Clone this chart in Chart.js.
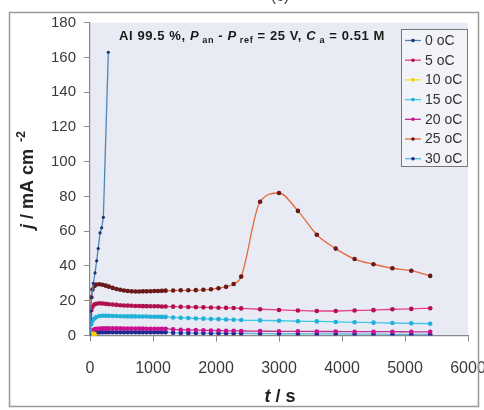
<!DOCTYPE html>
<html>
<head>
<meta charset="utf-8">
<script src="https://cdn.jsdelivr.net/npm/chart.js@4/dist/chart.umd.min.js"></script>
<style>
  body { margin: 0; background: #fff; }
  canvas { display: block; }
</style>
</head>
<body>
<canvas id="chart" width="484" height="410"></canvas>
<script>
// time (s) for the long runs
const tLong = [0, 20, 40, 70, 100, 150, 200, 250, 300, 360, 420, 480, 540, 600, 660, 720, 780, 840, 900, 960,
    1020, 1080, 1140, 1200, 1320, 1440, 1560, 1680, 1800, 1920, 2040, 2160, 2280, 2400,
    2700, 3000, 3300, 3600, 3900, 4200, 4500, 4800, 5100, 5400];

// j / mA cm-2
const j5 = [10, 14.5, 16.5, 17.8, 18.3, 18.5, 18.4, 18.2, 18.0, 17.8, 17.6, 17.4, 17.3, 17.2, 17.1, 17.0, 17.0, 16.9, 16.9, 16.8,
    16.8, 16.8, 16.7, 16.7, 16.6, 16.5, 16.4, 16.3, 16.2, 16.1, 16.0, 15.9, 15.8, 15.6,
    15.1, 14.7, 14.4, 14.1, 14.1, 14.4, 14.6, 15.1, 15.3, 15.7];
const j15 = [3, 6.5, 8.5, 9.8, 10.6, 11.2, 11.4, 11.4, 11.3, 11.2, 11.2, 11.1, 11.1, 11.0, 11.0, 11.0, 10.9, 10.9, 10.9, 10.8,
    10.8, 10.8, 10.7, 10.7, 10.4, 10.2, 10.0, 9.8, 9.7, 9.5, 9.4, 9.2, 9.1, 8.9,
    8.7, 8.5, 8.2, 8.1, 7.8, 7.6, 7.4, 7.2, 7.0, 6.8];
const j20 = [0.5, 2, 3, 3.5, 3.8, 4.0, 4.1, 4.1, 4.1, 4.1, 4.1, 4.1, 4.0, 4.0, 4.0, 4.0, 4.0, 4.0, 3.9, 3.9,
    3.9, 3.9, 3.9, 3.9, 3.5, 3.3, 3.2, 3.1, 3.0, 2.9, 2.8, 2.7, 2.7, 2.6,
    2.5, 2.4, 2.4, 2.3, 2.3, 2.2, 2.2, 2.2, 2.1, 2.1];
const j25 = [12, 22, 26.5, 28.5, 29.3, 29.5, 29.2, 28.7, 28.1, 27.4, 26.8, 26.3, 25.9, 25.6, 25.4, 25.3, 25.3, 25.4, 25.4, 25.5,
    25.6, 25.6, 25.7, 25.8, 25.9, 26.0, 26.0, 26.1, 26.3, 26.6, 27.2, 28.0, 29.6, 33.9,
    77.0, 82.0, 71.7, 58.0, 50.0, 44.0, 41.0, 38.7, 37.3, 34.3];
const j30 = [0, 0.8, 1.2, 1.5, 1.7, 1.8, 1.9, 1.9, 1.9, 1.9, 1.9, 1.9, 1.9, 1.9, 1.9, 1.9, 1.9, 1.9, 1.9, 1.9,
    1.9, 1.9, 1.9, 1.9, 1.6, 1.5, 1.5, 1.4, 1.4, 1.3, 1.3, 1.3, 1.2, 1.2,
    1.1, 1.0, 1.0, 0.9, 0.9, 0.8, 0.8, 0.7, 0.7, 0.7];

// short runs
const t0 = [0, 10, 27, 53, 80, 106, 130, 159, 185, 212, 291];
const j0 = [0, 14, 22, 30, 36, 43, 50, 59, 62, 68, 163];
const t10 = [0, 15, 30, 45, 60];
const j10 = [0, 0.2, 0.3, 0.3, 0.4];

const seriesNames = ["0 oC", "5 oC", "10 oC", "15 oC", "20 oC", "25 oC", "30 oC"];
const xTicks = [0, 1000, 2000, 3000, 4000, 5000, 6000];
const yTicks = [0, 20, 40, 60, 80, 100, 120, 140, 160, 180];

function pts(t, j) {
    return t.map((v, i) => ({ x: v, y: j[i] }));
}

const lineCols = ["#4f86b8", "#e8408a", "#f2dc30", "#3cc8e6", "#c03090", "#e36a3c", "#5ab8e0"];
const markCols = ["#1f2f6f", "#b01050", "#f0d000", "#20b0d8", "#c81090", "#6a1818", "#202890"];
const allData = [pts(t0, j0), pts(tLong, j5), pts(t10, j10), pts(tLong, j15), pts(tLong, j20), pts(tLong, j25), pts(tLong, j30)];

const datasets = seriesNames.map((name, i) => ({
    label: name,
    data: allData[i],
    borderColor: lineCols[i],
    backgroundColor: markCols[i],
    pointBackgroundColor: markCols[i],
    pointBorderColor: markCols[i],
    pointRadius: i === 2 ? 3.2 : (i === 0 ? 1.6 : 2.3),
    pointBorderWidth: 0,
    borderWidth: 1.3,
    tension: i === 0 ? 0 : 0.4,
    cubicInterpolationMode: i === 0 ? 'default' : 'monotone',
}));

// draw a run of mixed-style text, returns width
function richText(ctx, segs, x, y, size, draw) {
    let cx = x;
    segs.forEach(s => {
        const fs = s.sub || s.sup ? size * 0.7 : size;
        ctx.font = (s.it ? "italic " : "") + "bold " + fs + "px Arial, 'Liberation Sans', sans-serif";
        const dy = s.sub ? size * 0.25 : (s.sup ? -size * 0.45 : 0);
        if (draw) ctx.fillText(s.t, cx, y + dy);
        cx += ctx.measureText(s.t).width;
    });
    return cx - x;
}

const decor = {
    id: 'decor',
    beforeDraw(chart) {
        const ctx = chart.ctx, a = chart.chartArea;
        ctx.save();
        ctx.fillStyle = "#fff";
        ctx.fillRect(0, 0, chart.width, chart.height);
        ctx.fillStyle = "#e8ebf4";
        ctx.fillRect(a.left, a.top, a.right - a.left, a.bottom - a.top);
        ctx.restore();
    },
    afterDraw(chart) {
        const ctx = chart.ctx;
        ctx.save();
        ctx.textBaseline = "alphabetic";

        // annotation
        ctx.fillStyle = "#1a1a1a";
        ctx.letterSpacing = "0.6px";
        const note = [
            { t: "Al 99.5 %, " }, { t: "P", it: true }, { t: " an", sub: true }, { t: " - " },
            { t: "P", it: true }, { t: " ref", sub: true }, { t: " = 25 V, " },
            { t: "C", it: true }, { t: " a", sub: true }, { t: " = 0.51 M" }
        ];
        richText(ctx, note, 119, 40, 13, true);
        ctx.letterSpacing = "0px";

        // y title
        const yt = [{ t: "j", it: true }, { t: " / mA cm" }, { t: "  -2", sup: true }];
        ctx.fillStyle = "#222";
        const w = richText(ctx, yt, 0, 0, 18, false);
        ctx.save();
        ctx.translate(33, 180 + w / 2);
        ctx.rotate(-Math.PI / 2);
        richText(ctx, yt, 0, 0, 18, true);
        ctx.restore();

        // x title
        const xt = [{ t: "t", it: true }, { t: " / s" }];
        const wx = richText(ctx, xt, 0, 0, 18, false);
        richText(ctx, xt, 280 - wx / 2, 402, 18, true);

        // legend
        const lx = 401, ly = 29, lw = 66, lh = 137;
        ctx.fillStyle = "#f1f3f8";
        ctx.fillRect(lx, ly, lw, lh);
        ctx.strokeStyle = "#777";
        ctx.lineWidth = 1;
        ctx.strokeRect(lx + 0.5, ly + 0.5, lw, lh);
        ctx.font = "14px Arial, 'Liberation Sans', sans-serif";
        ctx.textBaseline = "middle";
        seriesNames.forEach((name, i) => {
            const yy = 40.5 + i * 19.7;
            ctx.strokeStyle = lineCols[i];
            ctx.lineWidth = 1.3;
            ctx.beginPath();
            ctx.moveTo(405, yy);
            ctx.lineTo(421, yy);
            ctx.stroke();
            ctx.fillStyle = markCols[i];
            ctx.beginPath();
            ctx.arc(413, yy, 1.8, 0, Math.PI * 2);
            ctx.fill();
            ctx.fillStyle = "#333";
            ctx.fillText(name, 425, yy + 0.5);
        });

        // frame of the figure
        ctx.strokeStyle = "#9a9a9a";
        ctx.lineWidth = 1.5;
        ctx.strokeRect(9.5, 12.5, 469, 394);
        ctx.fillStyle = "#444";
        ctx.font = "16px Arial, sans-serif";
        ctx.textAlign = "center";
        ctx.textBaseline = "alphabetic";
        ctx.fillText("(c)", 280, 1);
        ctx.restore();
    }
};

const ctx = document.getElementById("chart").getContext("2d");

const config = {
    type: 'line',
    data: { datasets: datasets },
    options: {
        responsive: false,
        animation: false,
        devicePixelRatio: 1,
        layout: { padding: { left: 0, right: 16, top: 22.7, bottom: 0 } },
        plugins: { legend: { display: false }, tooltip: { enabled: false } },
        scales: {
            x: {
                type: 'linear',
                min: 0,
                max: 6000,
                afterBuildTicks: s => { s.ticks = xTicks.map(v => ({ value: v })); },
                afterFit: s => { s.height = 74.5; s.paddingLeft = 0; s.paddingRight = 0; },
                ticks: { color: "#3a3a3a", font: { size: 16, family: "Arial, 'Liberation Sans', sans-serif" }, padding: 17, maxRotation: 0,
                    callback: v => String(v) },
                grid: { drawOnChartArea: false, color: "#888", tickLength: 6 },
                border: { color: "#888", width: 1.2 }
            },
            y: {
                min: 0,
                max: 180,
                afterBuildTicks: s => { s.ticks = yTicks.map(v => ({ value: v })); },
                afterFit: s => { s.width = 90; },
                ticks: { color: "#3a3a3a", font: { size: 15, family: "Arial, 'Liberation Sans', sans-serif" }, padding: 8 },
                grid: { drawOnChartArea: false, color: "#888", tickLength: 6 },
                border: { color: "#888", width: 1.2 }
            }
        }
    },
    plugins: [decor]
};

const chart = new Chart(ctx, config);
</script>
</body>
</html>
